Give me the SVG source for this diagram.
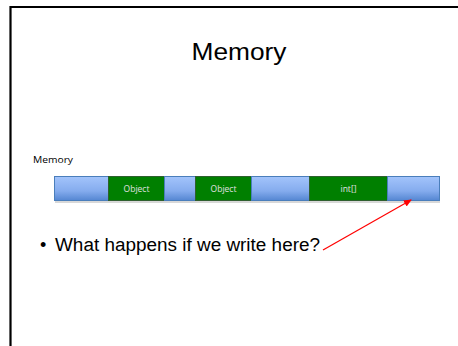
<svg xmlns="http://www.w3.org/2000/svg" width="458" height="346" viewBox="0 0 458 346">
<style>
.t{font-family:"Liberation Sans",Arial,sans-serif;fill:#000}
.lbl{font-family:"Open Sans","Liberation Sans",Arial,sans-serif;font-size:8.5px;fill:#e0e0e0;text-anchor:middle}
.blue{fill:url(#bg);stroke:#4a7ebb;stroke-width:1}
.green{fill:#007f00;stroke:#2f5f2f;stroke-width:1}
</style>
<defs>
<linearGradient id="bg" x1="0" y1="0" x2="0" y2="1">
<stop offset="0" stop-color="#a3c4fb"/>
<stop offset="0.6" stop-color="#85acee"/>
<stop offset="1" stop-color="#5486d2"/>
</linearGradient>
<marker id="ah" markerWidth="8" markerHeight="8" refX="7" refY="4" orient="auto" markerUnits="userSpaceOnUse">
<path d="M0,0.5 L8,4 L0,7.5 Z" fill="#ff0000"/>
</marker>
</defs>
<rect width="458" height="346" fill="#fff"/>
<path d="M10.5,346 V7 H458" fill="none" stroke="#000" stroke-width="2.2"/>
<text class="t" x="239" y="60" font-size="24" text-anchor="middle" textLength="95" lengthAdjust="spacingAndGlyphs">Memory</text>
<g id="memory">
<text x="33" y="163" font-size="9" font-family="Open Sans, Liberation Sans, sans-serif" textLength="40" lengthAdjust="spacingAndGlyphs">Memory</text>
<rect x="55" y="201" width="385" height="2" fill="#d8d8d8"/>
<g id="free1"><rect class="blue" x="54.5" y="176.5" width="54" height="24"/></g>
<g id="obj1"><rect class="green" x="108.5" y="176.5" width="56" height="24"/><text class="lbl" x="136.5" y="191.5">Object</text></g>
<g id="free2"><rect class="blue" x="164.5" y="176.5" width="31" height="24"/></g>
<g id="obj2"><rect class="green" x="195.5" y="176.5" width="56" height="24"/><text class="lbl" x="223.5" y="191.5">Object</text></g>
<g id="free3"><rect class="blue" x="251.5" y="176.5" width="58" height="24"/></g>
<g id="arr"><rect class="green" x="309.5" y="176.5" width="78" height="24"/><text class="lbl" x="348.5" y="191.5">int[]</text></g>
<g id="free4"><rect class="blue" x="387.5" y="176.5" width="52" height="24"/></g>
</g>
<g id="bullet">
<text class="t" x="40" y="251" font-size="18">•</text>
<text class="t" x="55" y="251" font-size="18" textLength="265" lengthAdjust="spacingAndGlyphs">What happens if we write here?</text>
</g>
<g id="connectors">
<line x1="323" y1="250" x2="411" y2="200" stroke="#ff0000" stroke-width="1.2" marker-end="url(#ah)"/>
</g>
</svg>
